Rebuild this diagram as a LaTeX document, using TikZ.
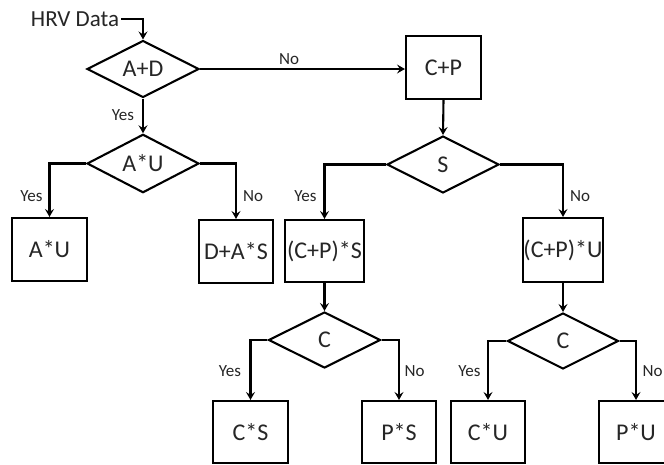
\documentclass[tikz,border=0pt]{standalone}
\usepackage{fontspec}
\setmainfont{Carlito}
\usetikzlibrary{shapes.geometric,arrows.meta}
\definecolor{txt}{HTML}{262626}
\begin{document}
\begin{tikzpicture}[x=1pt,y=-1pt,
  line width=2.1pt,
  every node/.style={text=txt},
  dec/.style={draw=black,diamond,inner sep=0pt,minimum width=112pt,minimum height=57pt,font=\fontsize{24}{24}\selectfont},
  bx/.style={draw=black,rectangle,inner sep=0pt,minimum width=75pt,minimum height=63pt,font=\fontsize{24}{24}\selectfont},
  lbl/.style={inner sep=0pt,font=\fontsize{17}{17}\selectfont},
  arr/.style={-{Stealth[length=8pt,width=9pt,inset=3pt]}}
]
\useasboundingbox (0,0) rectangle (664,464);
\clip (0,0) rectangle (664,464);
\fill[white] (0,0) rectangle (664,464);

\node[inner sep=1pt,font=\fontsize{23}{23}\selectfont] (hrv) at (75,19) {HRV Data};
\node[dec] (ad) at (143,69) {A+D};
\node[bx] (cp) at (443.5,67.5) {C+P};
\node[dec] (au) at (143,163.5) {A*U};
\node[dec] (s) at (443,164.5) {S};
\node[bx] (aubox) at (49.5,249.5) {A*U};
\node[bx,minimum width=74pt] (das) at (236,251.5) {D+A*S};
\node[bx,minimum width=79pt,minimum height=62pt] (cps) at (324.5,251) {(C+P)*S};
\node[bx,minimum width=80pt,minimum height=64pt] (cpu) at (563,250) {(C+P)*U};
\node[dec,minimum height=56pt] (c1) at (324.5,340) {C};
\node[dec,minimum width=111pt,minimum height=56pt] (c2) at (563,341) {C};
\node[bx,minimum height=62pt] (cs) at (250.5,432) {C*S};
\node[bx,minimum width=74pt,minimum height=62pt] (ps) at (399,432) {P*S};
\node[bx,minimum width=74pt,minimum height=62pt] (cu) at (488,432) {C*U};
\node[bx,minimum width=74pt,minimum height=62pt] (pu) at (636,432) {P*U};

\draw[arr] (hrv.east) -| (ad.north);
\draw[arr] (ad.east) -- (ad.east -| cp.west);
\draw[arr] (ad.south) -- (au.north);
\draw[arr] (cp.south) -- (s.north);
\draw[arr] (au.west) -| (aubox.north);
\draw[arr] (au.east) -| (das.north);
\draw[arr] (s.west) -| (cps.north);
\draw[arr] (s.east) -| (cpu.north);
\draw[arr] (cps.south) -- (c1.north);
\draw[arr] (cpu.south) -- (c2.north);
\draw[arr] (c1.west) -| (cs.north);
\draw[arr] (c1.east) -| (ps.north);
\draw[arr] (c2.west) -| (cu.north);
\draw[arr] (c2.east) -| (pu.north);

\node[lbl] (l1) at (289,59) {No};
\node[lbl] (l2) at (123,115) {Yes};
\node[lbl] (l3) at (31.5,196) {Yes};
\node[lbl] (l4) at (253,196) {No};
\node[lbl] (l5) at (305.5,196) {Yes};
\node[lbl] (l6) at (580,196) {No};
\node[lbl] (l7) at (230,371) {Yes};
\node[lbl] (l8) at (414.5,371) {No};
\node[lbl] (l9) at (469.5,371) {Yes};
\node[lbl] (l10) at (652.5,371) {No};
\end{tikzpicture}
\end{document}
